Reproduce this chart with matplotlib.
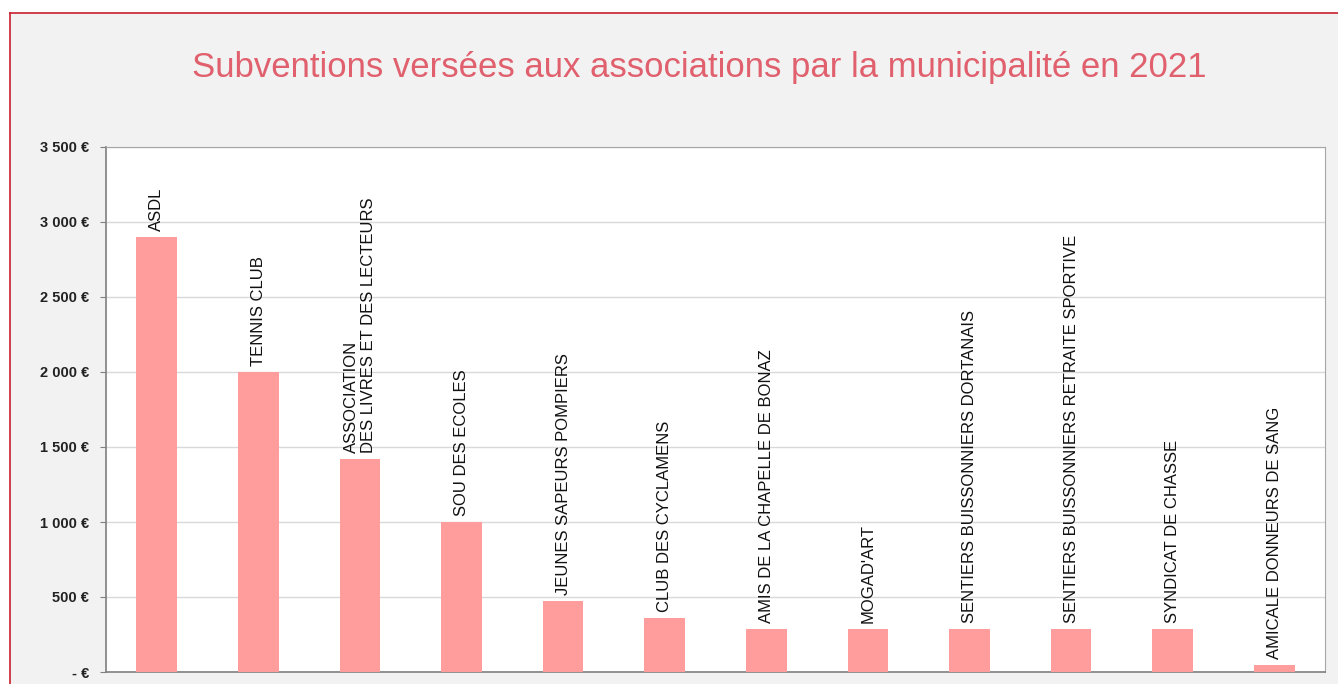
import matplotlib.pyplot as plt
from matplotlib.ticker import FuncFormatter
from matplotlib.lines import Line2D

associations = ['ASDL', 'TENNIS CLUB', 'ASSOCIATION\nDES LIVRES ET DES LECTEURS',
                'SOU DES ECOLES', 'JEUNES SAPEURS POMPIERS', 'CLUB DES CYCLAMENS',
                'AMIS DE LA CHAPELLE DE BONAZ', "MOGAD'ART",
                'SENTIERS BUISSONNIERS DORTANAIS',
                'SENTIERS BUISSONNIERS RETRAITE SPORTIVE',
                'SYNDICAT DE CHASSE', 'AMICALE DONNEURS DE SANG']
montants = [2900, 2000, 1420, 1000, 475, 360, 290, 290, 290, 290, 290, 50]
yticks = [0, 500, 1000, 1500, 2000, 2500, 3000, 3500]

plt.rcParams['font.family'] = ['Liberation Sans', 'DejaVu Sans']

fig = plt.figure(figsize=(13.38, 6.84), dpi=100)
fig.patch.set_facecolor('white')

# fond gris + cadre rouge
W, H = 1338, 684
fig.patches.append(plt.Rectangle((10 / W, 0), 1, 1 - 13 / H, transform=fig.transFigure,
                                 facecolor='#f2f2f2', edgecolor='none', zorder=-10))
fig.add_artist(Line2D([10 / W, 1], [1 - 13 / H, 1 - 13 / H], transform=fig.transFigure,
                      color='#c8202e', lw=1.2))
fig.add_artist(Line2D([10 / W, 10 / W], [0, 1 - 13 / H], transform=fig.transFigure,
                      color='#c8202e', lw=1.2))

ax = fig.add_axes([106 / W, 12 / H, (1325 - 106) / W, (672 - 147) / H])
ax.set_facecolor('white')

x = list(range(len(associations)))
ax.bar(x, montants, width=0.4, color='#ff9d9d', zorder=3)

for xi, v, lab in zip(x, montants, associations):
    ax.annotate(lab, (xi, v), xytext=(0, 4), textcoords='offset points',
                rotation=90, ha='center', va='bottom', fontsize=12,
                multialignment='left', color='#111111')

ax.set_xlim(-0.5, len(associations) - 0.5)
ax.set_ylim(0, 3500)
ax.set_yticks(yticks)
ax.yaxis.set_major_formatter(FuncFormatter(
    lambda v, p: '- €' if v == 0 else f'{int(v):,} €'.replace(',', ' ')))
ax.set_xticks([])
ax.grid(axis='y', color='#d9d9d9', lw=1, zorder=0)
for lab in ax.get_yticklabels():
    lab.set_fontweight('bold')
    lab.set_fontsize(10.5)
    lab.set_color('#222222')
ax.tick_params(axis='y', length=4, color='#808080', pad=8)
for s in ['left', 'bottom']:
    ax.spines[s].set_color('#7f7f7f')
    ax.spines[s].set_linewidth(1.2)
for s in ['top', 'right']:
    ax.spines[s].set_color('#a6a6a6')

fig.text(0.523, 1 - 67 / H, 'Subventions versées aux associations par la municipalité en 2021',
         ha='center', va='center', fontsize=25, color='#e0606e')

plt.savefig('out.png', dpi=100, facecolor=fig.get_facecolor())
